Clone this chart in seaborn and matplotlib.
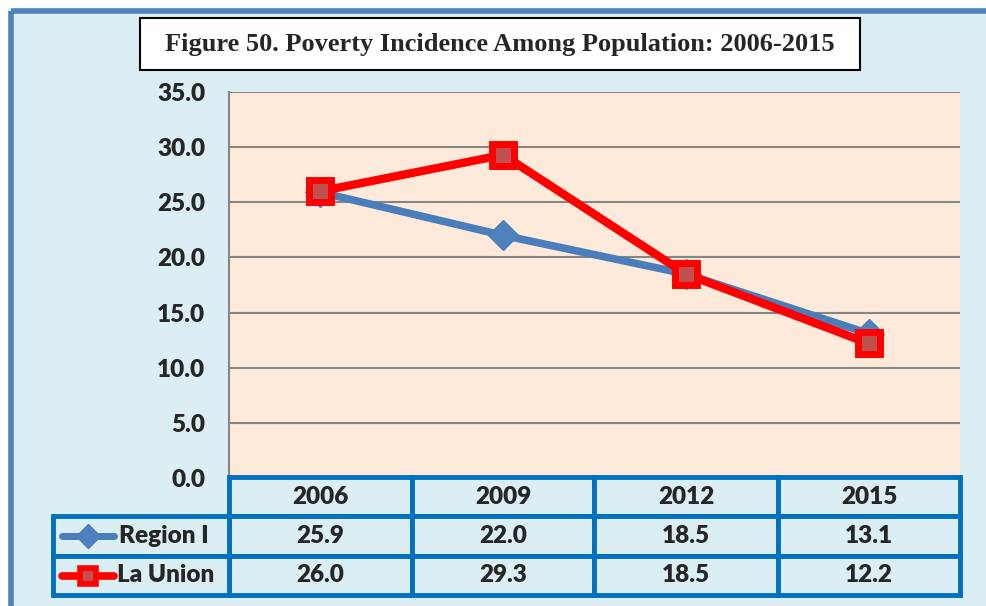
import matplotlib
matplotlib.use("Agg")
import matplotlib.pyplot as plt
import seaborn as sns
import numpy as np
import pandas as pd
from matplotlib.patches import Rectangle
from matplotlib.lines import Line2D

# Data
years = ["2006", "2009", "2012", "2015"]
region_i = [25.9, 22.0, 18.5, 13.1]
la_union = [26.0, 29.3, 18.5, 12.2]
series_names = ["Region I", "La Union"]
title = "Figure 50. Poverty Incidence Among Population: 2006-2015"

BG = "#DAEEF3"
PLOT_BG = "#FDEADA"
BLUE = "#4A7EBB"
RED = "#FF0000"
TABLE_BLUE = "#0070C0"
FS = 17.5
FW = "heavy"

sns.set_style("white")
plt.rcParams["font.family"] = ["Lato", "DejaVu Sans"]

W, H = 986, 606
fig = plt.figure(figsize=(W / 100, H / 100), dpi=100, facecolor=BG)

# plot area in pixel coords
px_l, px_r, px_t, px_b = 229, 960, 92, 478
ax = fig.add_axes([px_l / W, 1 - px_b / H, (px_r - px_l) / W, (px_b - px_t) / H])
ax.set_facecolor(PLOT_BG)

df = pd.DataFrame({"year": years * 2,
                   "value": region_i + la_union,
                   "series": [series_names[0]] * 4 + [series_names[1]] * 4})

sns.lineplot(data=df[df.series == "Region I"], x="year", y="value", ax=ax,
             color=BLUE, lw=5.5, marker="D", markersize=15, markerfacecolor="#4F81BD",
             markeredgecolor=BLUE, markeredgewidth=1, sort=False, zorder=3, legend=False)
sns.lineplot(data=df[df.series == "La Union"], x="year", y="value", ax=ax,
             color=RED, lw=6, marker="s", markersize=16, markerfacecolor="#C0504D",
             markeredgecolor=RED, markeredgewidth=5, sort=False, zorder=4, legend=False)
for ln in ax.lines:
    ln.set_solid_joinstyle("round")
    ln.set_solid_capstyle("round")

ax.set_xlim(-0.5, 3.5)
ax.set_ylim(0, 35)
ax.set_yticks(np.arange(0, 36, 5))
ax.set_yticklabels([f"{v:.1f}" for v in np.arange(0, 36, 5)], fontsize=FS, fontweight=FW)
ax.tick_params(axis="y", length=0, pad=17)
ax.set_xticks([])
ax.set_xlabel("")
ax.set_ylabel("")
ax.grid(axis="y", color="#868686", lw=1.5)
ax.set_axisbelow(True)
for s in ["top", "right", "bottom"]:
    ax.spines[s].set_visible(False)
ax.spines["left"].set_color("#868686")
ax.spines["left"].set_linewidth(1.5)

# overlay for frame, title and data table (pixel coordinates)
ov = fig.add_axes([0, 0, 1, 1], zorder=5)
ov.set_xlim(0, W)
ov.set_ylim(H, 0)
ov.axis("off")
ov.patch.set_alpha(0)

ov.add_patch(Rectangle((0, 0), W, 8, facecolor="white", edgecolor="none"))
ov.add_patch(Rectangle((0, 0), 8, H, facecolor="white", edgecolor="none"))
ov.add_patch(Rectangle((10.5, 10.5), 1200, 800, facecolor="none", edgecolor="#4F81BD", lw=4))

ov.add_patch(Rectangle((140, 18), 720, 52, facecolor="white", edgecolor="black", lw=1.5))
ov.text(500, 45, title, ha="center", va="center", fontsize=19, fontweight="bold",
        family="Liberation Serif")

# data table
col_x = [229, 412, 594, 778, 960]
row_y = [477, 516, 556, 595]
lab_x = 53
tkw = dict(ha="center", va="center", fontsize=FS, fontweight=FW)
for i in range(4):
    for r in range(3):
        ov.add_patch(Rectangle((col_x[i], row_y[r]), col_x[i + 1] - col_x[i], row_y[r + 1] - row_y[r],
                               facecolor=BG, edgecolor=TABLE_BLUE, lw=3.5))
    cx = (col_x[i] + col_x[i + 1]) / 2
    ov.text(cx, (row_y[0] + row_y[1]) / 2, years[i], **tkw)
    ov.text(cx, (row_y[1] + row_y[2]) / 2, f"{region_i[i]:.1f}", **tkw)
    ov.text(cx, (row_y[2] + row_y[3]) / 2, f"{la_union[i]:.1f}", **tkw)
for r in range(1, 3):
    ov.add_patch(Rectangle((lab_x, row_y[r]), col_x[0] - lab_x, row_y[r + 1] - row_y[r],
                           facecolor=BG, edgecolor=TABLE_BLUE, lw=3.5))

y1 = (row_y[1] + row_y[2]) / 2
y2 = (row_y[2] + row_y[3]) / 2
ov.add_line(Line2D([62, 114], [y1, y1], color=BLUE, lw=5))
ov.add_line(Line2D([88], [y1], color=BLUE, marker="D", markersize=12,
                   markerfacecolor="#4F81BD", markeredgecolor=BLUE))
ov.add_line(Line2D([62, 114], [y2, y2], color=RED, lw=5.5))
ov.add_line(Line2D([88], [y2], marker="s", markersize=12, markerfacecolor="#C0504D",
                   markeredgecolor=RED, markeredgewidth=4))
ov.text(119, y1, series_names[0], ha="left", va="center", fontsize=FS, fontweight=FW)
ov.text(117, y2, series_names[1], ha="left", va="center", fontsize=FS, fontweight=FW)

fig.savefig("out.png", dpi=100, facecolor=BG)
